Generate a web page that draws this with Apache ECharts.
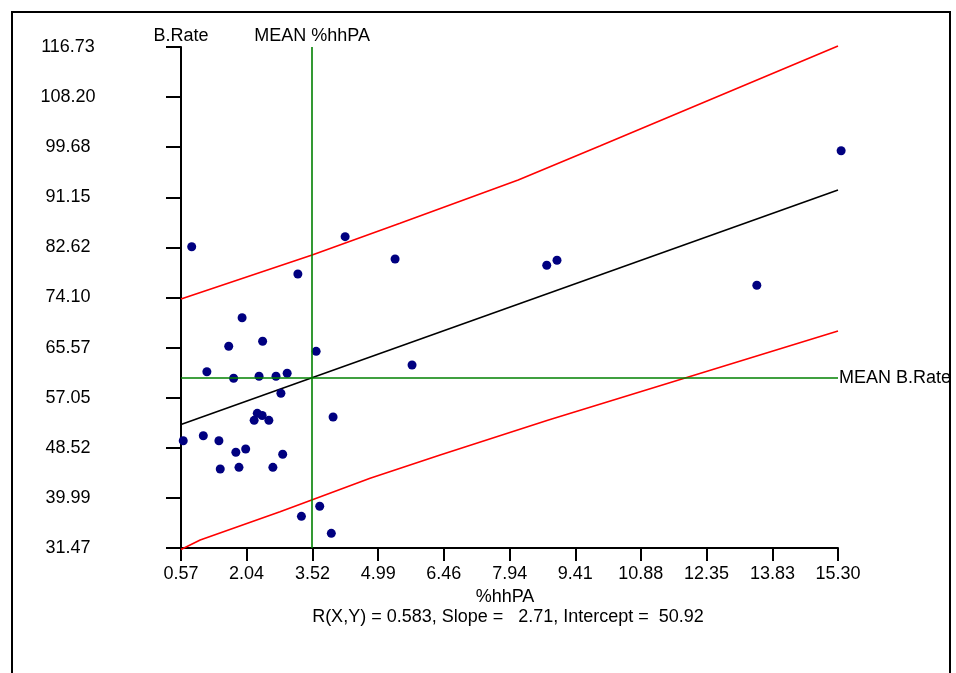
<!DOCTYPE html>
<html>
<head>
<meta charset="utf-8">
<script src="https://cdn.jsdelivr.net/npm/echarts@6/dist/echarts.min.js"></script>
<style>
html,body{margin:0;padding:0;background:#fff;}
#chart{width:956px;height:673px;}
</style>
</head>
<body>
<div id="chart"></div>
<script>
// ---- data ----
var xTickLabels = ['0.57','2.04','3.52','4.99','6.46','7.94','9.41','10.88','12.35','13.83','15.30'];
var yTickLabels = ['31.47','39.99','48.52','57.05','65.57','74.10','82.62','91.15','99.68','108.20','116.73'];

var pctHhPA = [0.81,4.25,3.19,1.94,2.40,1.64,3.60,1.15,1.75,2.32,2.70,2.95,2.81,2.21,2.28,2.39,2.54,3.98,0.62,1.07,1.42,1.80,2.02,2.85,1.45,1.87,2.63,3.68,3.27,3.94,5.37,5.75,8.77,9.00,15.37,13.48];
var bRate   = [82.74,84.45,78.10,70.66,66.65,65.80,64.94,61.47,60.35,60.69,60.69,61.20,57.80,53.20,54.39,54.02,53.20,53.76,49.73,50.58,49.73,47.76,48.32,47.42,44.91,45.20,45.20,38.57,36.86,33.97,80.65,62.61,79.58,80.43,99.08,76.18];

var fitX = [0.57, 15.30];
var fitY = [52.5, 92.4];

var upperX = [0.57, 3.51, 5.48, 8.13, 9.96, 15.30];
var upperY = [73.84, 81.33, 86.73, 94.10, 99.88, 116.90];

var lowerX = [0.57, 1.00, 2.79, 3.50, 4.81, 6.38, 8.81, 15.30];
var lowerY = [31.20, 32.83, 37.65, 39.64, 43.33, 47.30, 53.25, 68.40];

var meanX = 3.51;
var meanY = 60.41;
var statsText = 'R(X,Y) = 0.583, Slope =   2.71, Intercept =  50.92';

// ---- build ----
function zip(a, b){ return a.map(function(v, i){ return [v, b[i]]; }); }
var xTickVals = xTickLabels.map(parseFloat);
var yTickVals = yTickLabels.map(parseFloat);
var FONT = "'Liberation Sans', Arial, sans-serif";
var txt = {color:'#000', fontFamily:FONT, fontSize:18};

var chart = echarts.init(document.getElementById('chart'), null, {renderer:'canvas'});
chart.setOption({
  animation:false,
  backgroundColor:'#fff',
  textStyle:{fontFamily:FONT},
  grid:{left:181, right:118, top:47, bottom:125, containLabel:false, outerBoundsMode:'none'},
  xAxis:{
    type:'value', min:xTickVals[0], max:xTickVals[xTickVals.length-1],
    name:'%hhPA', nameLocation:'middle', nameGap:42,
    nameTextStyle:Object.assign({verticalAlign:'middle', padding:[0,9,0,0]}, txt),
    axisLine:{show:true, onZero:false, lineStyle:{color:'#000', width:2}},
    axisTick:{show:true, length:13, lineStyle:{color:'#000', width:2}, customValues:xTickVals},
    axisLabel:Object.assign({margin:17, customValues:xTickVals, formatter:function(v){return v.toFixed(2);}}, txt),
    splitLine:{show:false}
  },
  yAxis:{
    type:'value', min:yTickVals[0], max:yTickVals[yTickVals.length-1],
    name:'B.Rate', nameLocation:'end', nameGap:11,
    nameTextStyle:Object.assign({align:'center', verticalAlign:'middle'}, txt),
    axisLine:{show:true, onZero:false, lineStyle:{color:'#000', width:2}},
    axisTick:{show:true, length:15, lineStyle:{color:'#000', width:2}, customValues:yTickVals},
    axisLabel:Object.assign({margin:113, align:'center', customValues:yTickVals, formatter:function(v){return v.toFixed(2);}}, txt),
    splitLine:{show:false}
  },
  graphic:[
    {type:'rect', shape:{x:12, y:12, width:938, height:700}, style:{fill:'none', stroke:'#000', lineWidth:2}, silent:true, z:-1},
    {type:'text', x:508, y:617, style:{text:statsText, textAlign:'center', textVerticalAlign:'middle', fill:'#000', font:"18px 'Liberation Sans', Arial, sans-serif"}, silent:true}
  ],
  series:[
    {type:'line', data:zip(upperX, upperY), showSymbol:false, clip:false,
     lineStyle:{color:'#ff0000', width:1.6}, z:2},
    {type:'line', data:zip(lowerX, lowerY), showSymbol:false, clip:false,
     lineStyle:{color:'#ff0000', width:1.6}, z:2},
    {type:'line', data:zip(fitX, fitY), showSymbol:false, clip:false,
     lineStyle:{color:'#000', width:1.6}, z:2},
    {type:'scatter', data:zip(pctHhPA, bRate), symbol:'circle', symbolSize:9, clip:false,
     itemStyle:{color:'#000080', opacity:1}, z:4,
     markLine:{
       silent:true, symbol:'none', animation:false,
       lineStyle:{color:'#008000', width:1.6, type:'solid'},
       data:[
         {xAxis:meanX, label:Object.assign({show:true, position:'end', distance:2, formatter:'MEAN %hhPA'}, txt)},
         {yAxis:meanY, label:Object.assign({show:true, position:'end', distance:1, formatter:'MEAN B.Rate'}, txt)}
       ]
     }}
  ]
});
</script>
</body>
</html>
